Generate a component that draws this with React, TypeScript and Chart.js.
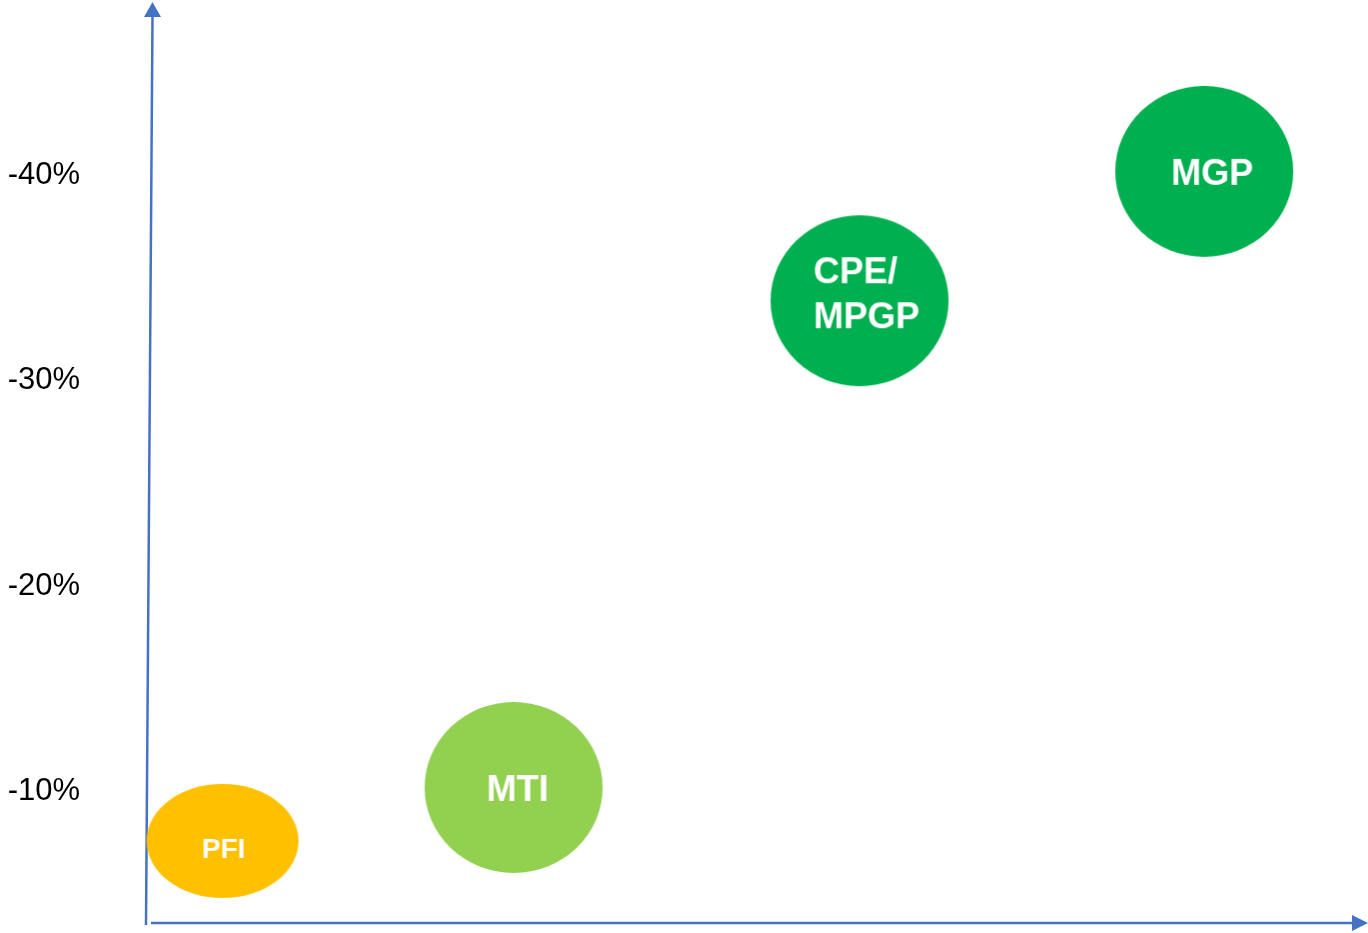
import React, { useEffect, useRef } from "react";
import { Chart, registerables } from "chart.js";
Chart.register(...registerables);

const names = ["PFI", "MTI", "CPE/\nMPGP", "MGP"];
const xValues = [6.2, 30.1, 58.5, 86.8];
const yValues = [-7.6, -10.2, -33.9, -40.2];
const yTicks = [-40, -30, -20, -10];

// styles (kept separate from data)
const bubbleColors = ["#FFC000", "#92D050", "#00B050", "#00B050"];
const bubbleSizes: [number, number][] = [
  [152, 114],
  [178, 171],
  [178, 171],
  [178, 171],
];
const labelFontSizes = [28, 36, 36, 36];
const labelAligns: CanvasTextAlign[] = ["center", "center", "left", "center"];
const labelOffsets: [number, number][] = [
  [1, 9],
  [4, 4],
  [-46, -27],
  [8, 4],
];
const labelLineGap = 45;
const AXIS_COLOR = "#4472C4";
const FONT = "'Liberation Sans', Arial, Helvetica, sans-serif";

function makeBubble(i: number): HTMLCanvasElement {
  const [w, h] = bubbleSizes[i];
  const c = document.createElement("canvas");
  c.width = w + 2;
  c.height = h + 2;
  const ctx = c.getContext("2d")!;
  const cx = c.width / 2;
  const cy = c.height / 2;
  ctx.fillStyle = bubbleColors[i];
  ctx.beginPath();
  ctx.ellipse(cx, cy, w / 2, h / 2, 0, 0, Math.PI * 2);
  ctx.fill();
  ctx.fillStyle = "#FFFFFF";
  ctx.font = `bold ${labelFontSizes[i]}px ${FONT}`;
  ctx.textAlign = labelAligns[i];
  ctx.textBaseline = "middle";
  const lines = names[i].split("\n");
  lines.forEach((ln, k) => {
    ctx.fillText(ln, cx + labelOffsets[i][0], cy + labelOffsets[i][1] + k * labelLineGap);
  });
  return c;
}

const arrowAxes = {
  id: "arrowAxes",
  beforeDatasetsDraw(chart: any) {
    const { ctx, chartArea } = chart;
    const { left, right, top, bottom } = chartArea;
    ctx.save();
    ctx.strokeStyle = AXIS_COLOR;
    ctx.fillStyle = AXIS_COLOR;
    ctx.lineWidth = 2.5;
    // y axis (slightly slanted as in the reference)
    const yBotX = left - 1;
    const yTopX = left + 5.5;
    ctx.beginPath();
    ctx.moveTo(yBotX, bottom + 3);
    ctx.lineTo(yTopX, top + 12);
    ctx.stroke();
    ctx.beginPath();
    ctx.moveTo(yTopX, top - 3);
    ctx.lineTo(yTopX - 8.5, top + 12);
    ctx.lineTo(yTopX + 8.5, top + 12);
    ctx.closePath();
    ctx.fill();
    // x axis
    ctx.beginPath();
    ctx.moveTo(left + 4, bottom + 1);
    ctx.lineTo(right - 13, bottom + 1);
    ctx.stroke();
    ctx.beginPath();
    ctx.moveTo(right + 3, bottom + 1);
    ctx.lineTo(right - 13, bottom - 7);
    ctx.lineTo(right - 13, bottom + 9);
    ctx.closePath();
    ctx.fill();
    ctx.restore();
  },
};

export default function App() {
  const ref = useRef<HTMLCanvasElement>(null);
  useEffect(() => {
    if (!ref.current) return;
    const styles = names.map((_, i) => makeBubble(i));
    const chart = new Chart(ref.current, {
      type: "scatter",
      data: {
        datasets: [
          {
            data: xValues.map((x, i) => ({ x, y: yValues[i] })),
            pointStyle: styles as any,
            pointRadius: 1,
            pointHoverRadius: 1,
            clip: false as any,
          },
        ],
      },
      options: {
        animation: false,
        responsive: true,
        maintainAspectRatio: false,
        layout: { autoPadding: false, padding: { top: 5, bottom: 11, left: 0, right: 3 } },
        plugins: { legend: { display: false }, tooltip: { enabled: false } },
        scales: {
          x: { type: "linear", min: 0, max: 100, display: false },
          y: {
            type: "linear",
            reverse: true,
            min: -48.3,
            max: -3.65,
            afterBuildTicks: (s: any) => {
              s.ticks = yTicks.map((v) => ({ value: v }));
            },
            afterFit: (s: any) => {
              s.width = 147;
              s.paddingTop = 0;
              s.paddingBottom = 0;
            },
            ticks: {
              callback: (v: any) => `${v}%`,
              font: { size: 31, family: FONT },
              color: "#000000",
              padding: 67,
            },
            grid: { display: false, drawTicks: false },
            border: { display: false },
          },
        },
      },
      plugins: [arrowAxes],
    });
    return () => chart.destroy();
  }, []);
  return (
    <div style={{ position: "absolute", left: 0, top: 0, width: 1368, height: 933, background: "#fff" }}>
      <canvas ref={ref} />
    </div>
  );
}
